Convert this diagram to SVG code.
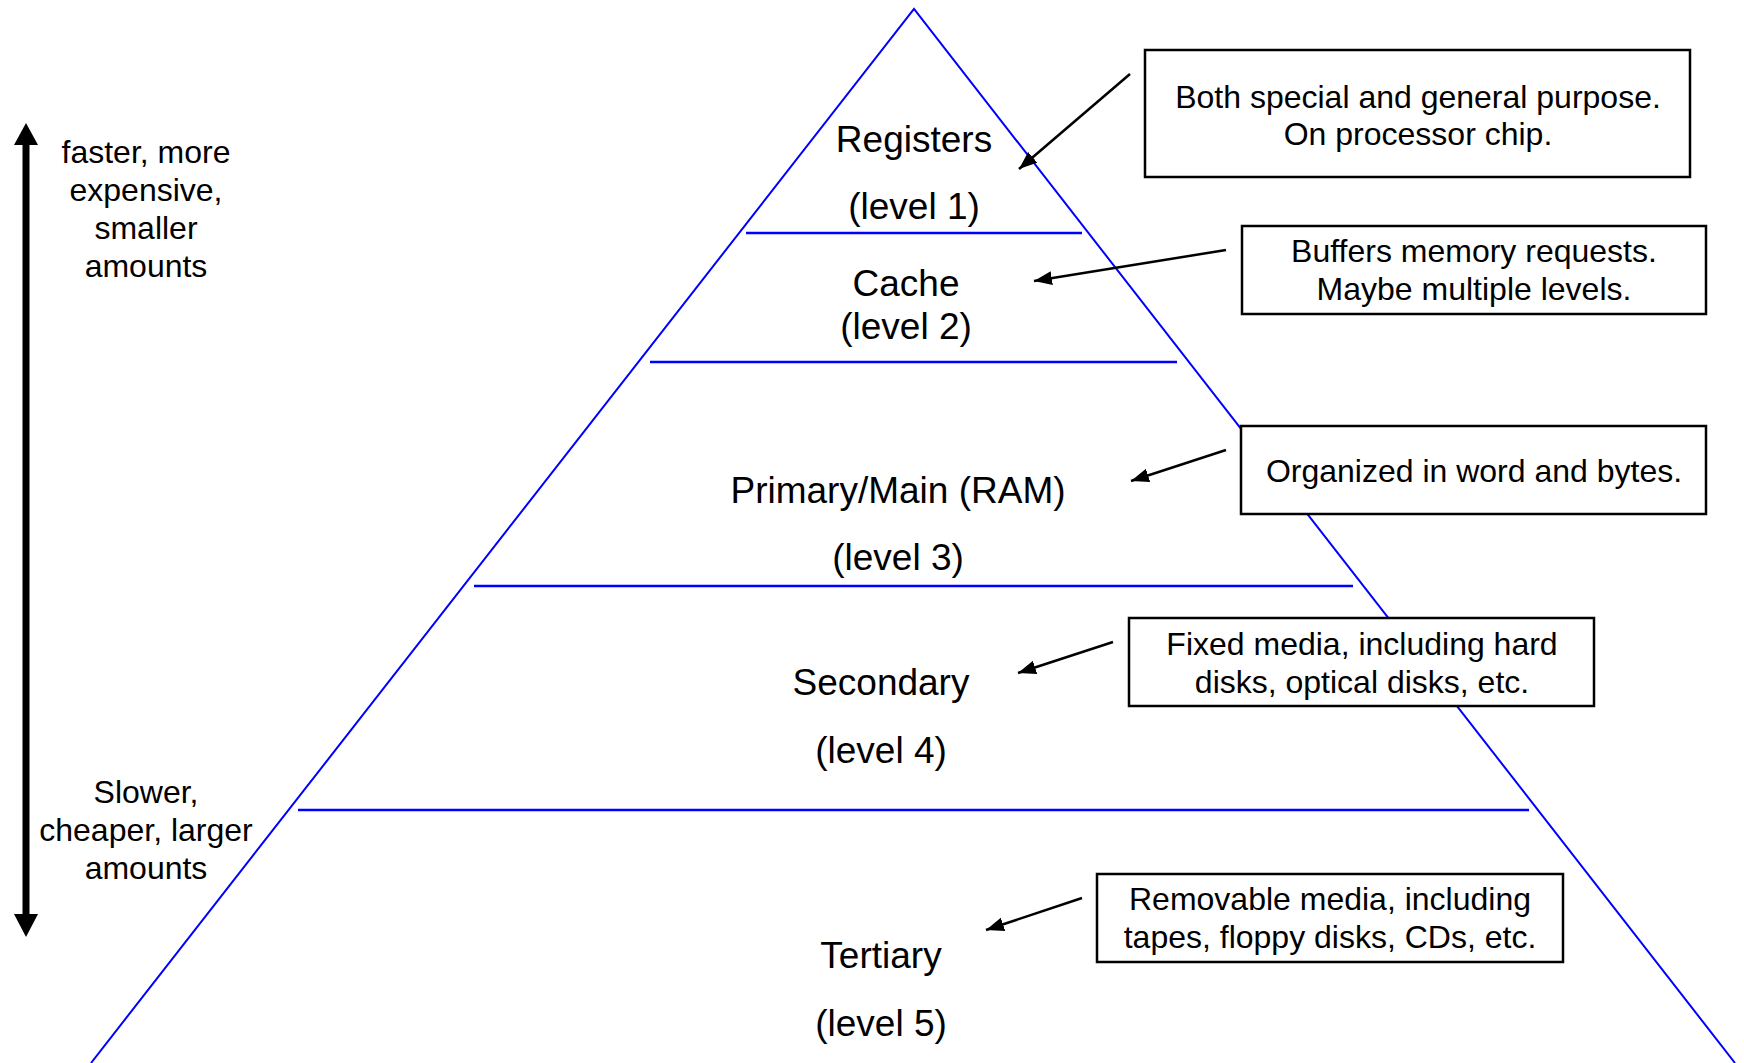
<svg xmlns="http://www.w3.org/2000/svg" width="1744" height="1063" viewBox="0 0 1744 1063">
<style>
  .tri { fill: none; stroke: #0000FF; stroke-width: 2; }
  .lvl { stroke: #0000FF; stroke-width: 2.5; }
  .box { fill: #FFFFFF; stroke: #000000; stroke-width: 2.5; }
  .conn { stroke: #000000; stroke-width: 2.5; fill: none; marker-end: url(#ah); }
  .big { font-family: "Liberation Sans", Arial, sans-serif; font-size: 37px; fill: #000; text-anchor: middle; }
  .sm { font-family: "Liberation Sans", Arial, sans-serif; font-size: 32px; fill: #000; text-anchor: middle; }
</style>
<defs>
  <marker id="ah" markerUnits="userSpaceOnUse" markerWidth="20" markerHeight="16" refX="18" refY="7" orient="auto">
    <path d="M0,0 L18,7 L0,14 Z" fill="#000"/>
  </marker>
</defs>
<rect width="1744" height="1063" fill="#FFFFFF"/>

<g id="pyramid">
  <polyline class="tri" points="91,1063 914,9 1735,1063"/>
  <line class="lvl" x1="746" y1="233" x2="1082" y2="233"/>
  <line class="lvl" x1="650" y1="362" x2="1177" y2="362"/>
  <line class="lvl" x1="474" y1="586" x2="1353" y2="586"/>
  <line class="lvl" x1="298" y1="810" x2="1529" y2="810"/>
</g>

<g id="level1">
  <text class="big" x="914" y="152">Registers</text>
  <text class="big" x="914" y="219">(level 1)</text>
</g>
<g id="level2">
  <text class="big" x="906" y="296">Cache</text>
  <text class="big" x="906" y="339">(level 2)</text>
</g>
<g id="level3">
  <text class="big" x="898" y="503">Primary/Main (RAM)</text>
  <text class="big" x="898" y="570">(level 3)</text>
</g>
<g id="level4">
  <text class="big" x="881" y="695">Secondary</text>
  <text class="big" x="881" y="763">(level 4)</text>
</g>
<g id="level5">
  <text class="big" x="881" y="968">Tertiary</text>
  <text class="big" x="881" y="1036">(level 5)</text>
</g>

<g id="axis">
  <line x1="26" y1="143" x2="26" y2="916" stroke="#000" stroke-width="7"/>
  <polygon points="26,123 14,145 38,145" fill="#000"/>
  <polygon points="26,937 14,914 38,914" fill="#000"/>
</g>
<g id="label-top">
  <text class="sm" x="146" y="163">faster, more</text>
  <text class="sm" x="146" y="201">expensive,</text>
  <text class="sm" x="146" y="239">smaller</text>
  <text class="sm" x="146" y="277">amounts</text>
</g>
<g id="label-bottom">
  <text class="sm" x="146" y="803">Slower,</text>
  <text class="sm" x="146" y="841">cheaper, larger</text>
  <text class="sm" x="146" y="879">amounts</text>
</g>

<g id="connectors">
  <line class="conn" x1="1130" y1="74" x2="1019" y2="169"/>
  <line class="conn" x1="1226" y1="250" x2="1034" y2="281"/>
  <line class="conn" x1="1226" y1="450" x2="1131" y2="481"/>
  <line class="conn" x1="1113" y1="642" x2="1018" y2="673"/>
  <line class="conn" x1="1082" y1="898" x2="986" y2="930"/>
</g>

<g id="note1">
  <rect class="box" x="1145" y="50" width="545" height="127"/>
  <text class="sm" x="1418" y="108">Both special and general purpose.</text>
  <text class="sm" x="1418" y="145">On processor chip.</text>
</g>
<g id="note2">
  <rect class="box" x="1242" y="226" width="464" height="88"/>
  <text class="sm" x="1474" y="262">Buffers memory requests.</text>
  <text class="sm" x="1474" y="300">Maybe multiple levels.</text>
</g>
<g id="note3">
  <rect class="box" x="1241" y="426" width="465" height="88"/>
  <text class="sm" x="1474" y="482">Organized in word and bytes.</text>
</g>
<g id="note4">
  <rect class="box" x="1129" y="618" width="465" height="88"/>
  <text class="sm" x="1362" y="655">Fixed media, including hard</text>
  <text class="sm" x="1362" y="693">disks, optical disks, etc.</text>
</g>
<g id="note5">
  <rect class="box" x="1097" y="874" width="466" height="88"/>
  <text class="sm" x="1330" y="910">Removable media, including</text>
  <text class="sm" x="1330" y="948">tapes, floppy disks, CDs, etc.</text>
</g>
</svg>
